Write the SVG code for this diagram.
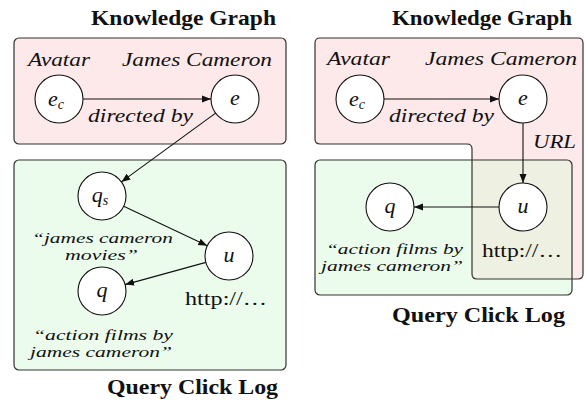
<svg xmlns="http://www.w3.org/2000/svg" width="585" height="400" viewBox="0 0 585 400" font-family="'Liberation Serif', 'Times New Roman', serif">
<style>
text{font-family:'Liberation Serif','Times New Roman',serif;fill:#111}
.title{font-weight:bold;font-size:22px}
.it{font-style:italic;font-size:18px}
.sm{font-style:italic;font-size:15px}
.m{font-style:italic;font-size:22px;text-anchor:middle}
.sub{font-style:italic;font-size:14px}
.rm{font-size:19px}
.box{stroke:#333;stroke-width:1.2}
.red{fill:#fde9e9}
.green{fill:#ecfcec}
.node{fill:#fff;stroke:#111;stroke-width:1.1}
.edge{stroke:#111;stroke-width:1.1;fill:none;marker-end:url(#arr)}
</style>
<defs>
<marker id="arr" markerWidth="10" markerHeight="8" refX="9" refY="4" orient="auto" markerUnits="userSpaceOnUse">
<path d="M0,0.5 L9,4 L0,7.5 Z" fill="#111"/>
</marker>
<clipPath id="gclip"><rect x="315" y="160" width="257" height="135" rx="5"/></clipPath>
</defs>

<!-- LEFT PANEL -->
<g id="left-kg">
<text class="title" x="91" y="25" textLength="185" lengthAdjust="spacingAndGlyphs">Knowledge Graph</text>
<rect class="box red" x="14" y="38" width="272" height="106" rx="5"/>
<text class="it" x="28" y="66" textLength="62" lengthAdjust="spacingAndGlyphs">Avatar</text>
<text class="it" x="122" y="66" textLength="150" lengthAdjust="spacingAndGlyphs">James Cameron</text>
<text class="it" x="88" y="122" textLength="105" lengthAdjust="spacingAndGlyphs">directed by</text>
</g>
<g id="left-qcl">
<rect class="box green" x="14" y="160" width="272" height="210" rx="5"/>
<text class="sm" x="32" y="243" textLength="141" lengthAdjust="spacingAndGlyphs">“james cameron</text>
<text class="sm" x="65" y="260" textLength="73" lengthAdjust="spacingAndGlyphs">movies”</text>
<text class="rm" x="185" y="305" textLength="82" lengthAdjust="spacingAndGlyphs">http://…</text>
<text class="sm" x="33" y="340" textLength="140" lengthAdjust="spacingAndGlyphs">“action films by</text>
<text class="sm" x="30" y="357" textLength="142" lengthAdjust="spacingAndGlyphs">james cameron”</text>
<text class="title" x="107" y="394" textLength="171" lengthAdjust="spacingAndGlyphs">Query Click Log</text>
</g>
<g id="left-ec"><circle class="node" cx="59" cy="99" r="24"/><text class="m" x="56" y="106">e<tspan class="sub" dy="3">c</tspan></text></g>
<g id="left-e"><circle class="node" cx="235" cy="99" r="24"/><text class="m" x="235" y="105">e</text></g>
<g id="left-qs"><circle class="node" cx="102" cy="196" r="24"/><text class="m" x="100" y="202">q<tspan class="sub" dy="3">s</tspan></text></g>
<g id="left-u"><circle class="node" cx="229" cy="256" r="24"/><text class="m" x="229" y="262">u</text></g>
<g id="left-q"><circle class="node" cx="102" cy="291" r="24"/><text class="m" x="102" y="297">q</text></g>
<g id="left-edges">
<line class="edge" x1="83" y1="99" x2="211" y2="99"/>
<line class="edge" x1="215.6" y1="113.1" x2="121.4" y2="181.9"/>
<line class="edge" x1="123.7" y1="206.2" x2="207.3" y2="245.8"/>
<line class="edge" x1="205.9" y1="262.4" x2="125.1" y2="284.6"/>
</g>

<!-- RIGHT PANEL -->
<g id="right-qcl-bg">
<rect class="green" x="315" y="160" width="257" height="135" rx="5"/>
</g>
<g id="right-kg">
<path class="red" d="M320,38 H578 Q583,38 583,43 V274 Q583,279 578,279 H477 Q472,279 472,274 V149 Q472,144 467,144 H320 Q315,144 315,139 V43 Q315,38 320,38 Z"/>
<path fill="#eef0e1" clip-path="url(#gclip)" d="M320,38 H578 Q583,38 583,43 V274 Q583,279 578,279 H477 Q472,279 472,274 V149 Q472,144 467,144 H320 Q315,144 315,139 V43 Q315,38 320,38 Z"/>
<rect fill="none" class="box" x="315" y="160" width="257" height="135" rx="5"/>
<path fill="none" class="box" d="M320,38 H578 Q583,38 583,43 V274 Q583,279 578,279 H477 Q472,279 472,274 V149 Q472,144 467,144 H320 Q315,144 315,139 V43 Q315,38 320,38 Z"/>
<text class="title" x="392" y="25" textLength="180" lengthAdjust="spacingAndGlyphs">Knowledge Graph</text>
<text class="it" x="327" y="65" textLength="63" lengthAdjust="spacingAndGlyphs">Avatar</text>
<text class="it" x="425" y="65" textLength="152" lengthAdjust="spacingAndGlyphs">James Cameron</text>
<text class="it" x="389" y="122" textLength="105" lengthAdjust="spacingAndGlyphs">directed by</text>
<text class="it" x="533" y="148" textLength="43" lengthAdjust="spacingAndGlyphs">URL</text>
</g>
<g id="right-qcl-text">
<text class="rm" x="482" y="257" textLength="80" lengthAdjust="spacingAndGlyphs">http://…</text>
<text class="sm" x="326" y="254" textLength="137" lengthAdjust="spacingAndGlyphs">“action films by</text>
<text class="sm" x="321" y="271" textLength="142" lengthAdjust="spacingAndGlyphs">james cameron”</text>
<text class="title" x="392" y="322" textLength="173" lengthAdjust="spacingAndGlyphs">Query Click Log</text>
</g>
<g id="right-ec"><circle class="node" cx="360" cy="99" r="24"/><text class="m" x="357" y="106">e<tspan class="sub" dy="3">c</tspan></text></g>
<g id="right-e"><circle class="node" cx="523" cy="99" r="24"/><text class="m" x="523" y="105">e</text></g>
<g id="right-u"><circle class="node" cx="523" cy="207" r="24"/><text class="m" x="523" y="213">u</text></g>
<g id="right-q"><circle class="node" cx="390" cy="207" r="24"/><text class="m" x="390" y="213">q</text></g>
<g id="right-edges">
<line class="edge" x1="384" y1="99" x2="499" y2="99"/>
<line class="edge" x1="523" y1="123" x2="523" y2="183"/>
<line class="edge" x1="499" y1="207" x2="414" y2="207"/>
</g>
</svg>
